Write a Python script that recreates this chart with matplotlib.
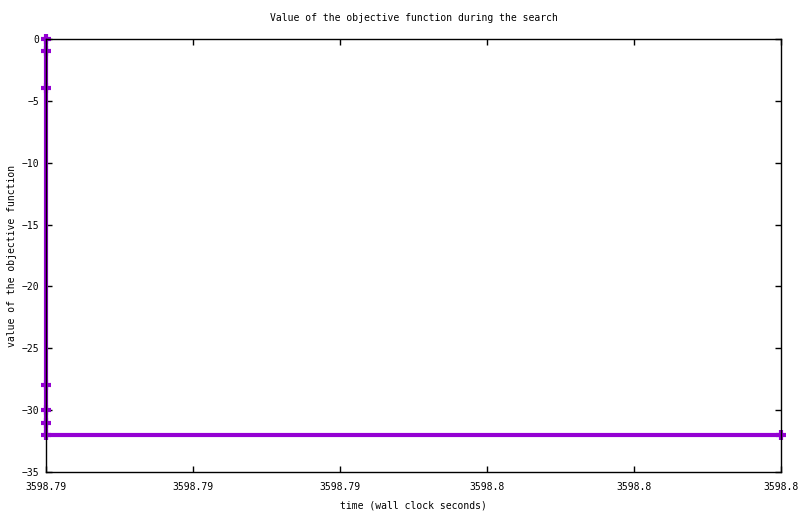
import matplotlib
matplotlib.use("Agg")
import matplotlib.pyplot as plt
import numpy as np

# wall clock time of each improvement, and objective value
times = [3598.7875, 3598.7875, 3598.7875, 3598.7875, 3598.7875, 3598.7875, 3598.7875, 3598.8]
values = [0, -1, -4, -28, -30, -31, -32, -32]

xlim = (3598.7875, 3598.8)
ylim = (-35, 0)
xtick_labels = ["3598.79", "3598.79", "3598.79", "3598.8", "3598.8", "3598.8"]

plt.rcParams['font.family'] = ['DejaVu Sans Mono']
plt.rcParams['font.size'] = 7

fig = plt.figure(figsize=(8, 5.14), dpi=100)
ax = fig.add_axes([46 / 800, 1 - 472 / 514, (781 - 46) / 800, (472 - 39) / 514])

ax.plot(times, values, color='#9400d3', lw=3, marker='+', ms=7.5, mew=3,
        clip_on=False, zorder=2)

ax.set_xlim(*xlim)
ax.set_ylim(*ylim)
ax.set_xticks(np.linspace(xlim[0], xlim[1], len(xtick_labels)))
ax.set_xticklabels(xtick_labels)
ax.set_yticks(np.arange(-35, 1, 5))

ax.tick_params(direction='in', length=4, width=1, top=True, right=True)
ax.tick_params(axis='x', pad=7)
ax.tick_params(axis='y', pad=5)
for s in ax.spines.values():
    s.set_linewidth(1)
    s.set_zorder(3)

ax.set_title("Value of the objective function during the search", fontsize=7, pad=13)
ax.set_xlabel("time (wall clock seconds)", labelpad=6)
ax.set_ylabel("value of the objective function", labelpad=3)

plt.savefig("out.png", dpi=100)
